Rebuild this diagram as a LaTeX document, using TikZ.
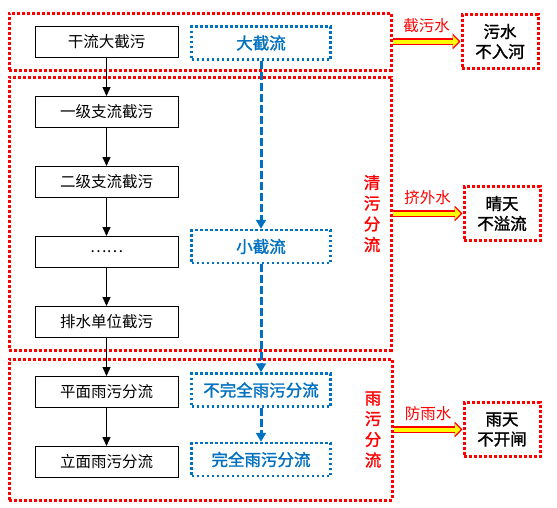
\documentclass[tikz,border=0pt]{standalone}
\usepackage{fontspec}
\newfontfamily\cjk{Noto Sans CJK SC}
\newfontfamily\cjkbold[FakeBold=1.6]{Noto Sans CJK SC}
\usetikzlibrary{positioning,arrows.meta}
\definecolor{wordred}{RGB}{255,0,0}
\definecolor{wordblue}{RGB}{0,112,192}
\definecolor{arrowyellow}{RGB}{255,255,0}

\begin{document}
\begin{tikzpicture}[x=1pt,y=-1pt,
		blackbox/.style={draw, line width=1pt, minimum width=143pt, minimum height=31pt, inner sep=0pt, font=\cjk\fontsize{15.5}{18}\selectfont},
		bluebox/.style={draw=wordblue, line width=2.5pt, dash pattern=on 2.5pt off 2.5pt, minimum width=139pt, minimum height=33pt, inner sep=0pt, text=wordblue, font=\cjkbold\fontsize{16.5}{19}\selectfont},
		groupbox/.style={draw=wordred, line width=3pt, dash pattern=on 3pt off 2pt, inner sep=0pt},
		resultbox/.style={groupbox, minimum width=76pt, minimum height=54pt, align=center, font=\cjkbold\fontsize{16.5}{20}\selectfont},
		sidelabel/.style={text=wordred, align=center, inner sep=0pt, font=\cjkbold\fontsize{16.5}{20.7}\selectfont},
		arrowlabel/.style={text=wordred, inner sep=0pt, font=\cjk\fontsize{15.5}{18}\selectfont},
		blackarrow/.style={line width=1.3pt, -{Triangle[length=9pt,width=8pt]}},
		bluearrow/.style={draw=wordblue, line width=3pt, dash pattern=on 8pt off 3pt, -{Triangle[length=9pt,width=10pt]}},
		fatarrow/.style={draw=wordred, line width=7pt, -{Triangle[length=8pt,width=16pt]}, postaction={draw=arrowyellow, line width=4pt, shorten >=2pt, -{Triangle[length=5.5pt,width=11pt]}}}
	]
		\useasboundingbox (0,0) rectangle (557,507);
		\node[groupbox, minimum width=382pt, minimum height=57pt] (top) at (200,41.5) {};
		\node[groupbox, minimum width=382pt, minimum height=273pt] (mid) at (200,213.5) {};
		\node[groupbox, minimum width=383pt, minimum height=141pt] (bot) at (200.5,429.5) {};
		
		\node[blackbox] (gan) at (106.5,42) {干流大截污};
		\node[blackbox, below=38pt of gan] (yiji) {一级支流截污};
		\node[blackbox, below=38pt of yiji] (erji) {二级支流截污};
		\node[blackbox, below=38pt of erji] (dots) {……};
		\node[blackbox, below=38pt of dots] (paishui) {排水单位截污};
		\node[blackbox, below=38pt of paishui] (pingmian) {平面雨污分流};
		\node[blackbox, below=38pt of pingmian] (limian) {立面雨污分流};
		
		\node[bluebox] (da) at (261,43) {大截流};
		\node[bluebox, below=168pt of da] (xiao) {小截流};
		\node[bluebox, below=108pt of xiao] (buwan) {不完全雨污分流};
		\node[bluebox, below=34pt of buwan] (wan) {完全雨污分流};
		
		\node[sidelabel, left=12pt of mid.east] (qingwu) {清\\污\\分\\流};
		\node[sidelabel, left=12pt of bot.east] (yuwu) {雨\\污\\分\\流};
		
		\node[resultbox, right=68pt of top] (r1) {污水\\不入河};
		\node[resultbox, right=70pt of mid] (r2) {晴天\\不溢流};
		\node[resultbox, right=69pt of bot] (r3) {雨天\\不开闸};
		
		\draw[blackarrow] (gan) -- (yiji);
		\draw[blackarrow] (yiji) -- (erji);
		\draw[blackarrow] (erji) -- (dots);
		\draw[blackarrow] (dots) -- (paishui);
		\draw[blackarrow] (paishui) -- (pingmian);
		\draw[blackarrow] (pingmian) -- (limian);
		
		\draw[bluearrow] (da) -- (xiao);
		\draw[bluearrow] (xiao) -- (buwan);
		\draw[bluearrow] (buwan) -- (wan);
		
		\draw[fatarrow] (top) -- (r1);
		\draw[fatarrow] (mid) -- (r2);
		\draw[fatarrow] (bot) -- (r3);
		\path (top) -- node[arrowlabel, above=9pt] {截污水} (r1);
		\path (mid) -- node[arrowlabel, above=9pt] {挤外水} (r2);
		\path (bot) -- node[arrowlabel, above=9pt] {防雨水} (r3);
\end{tikzpicture}
\end{document}
